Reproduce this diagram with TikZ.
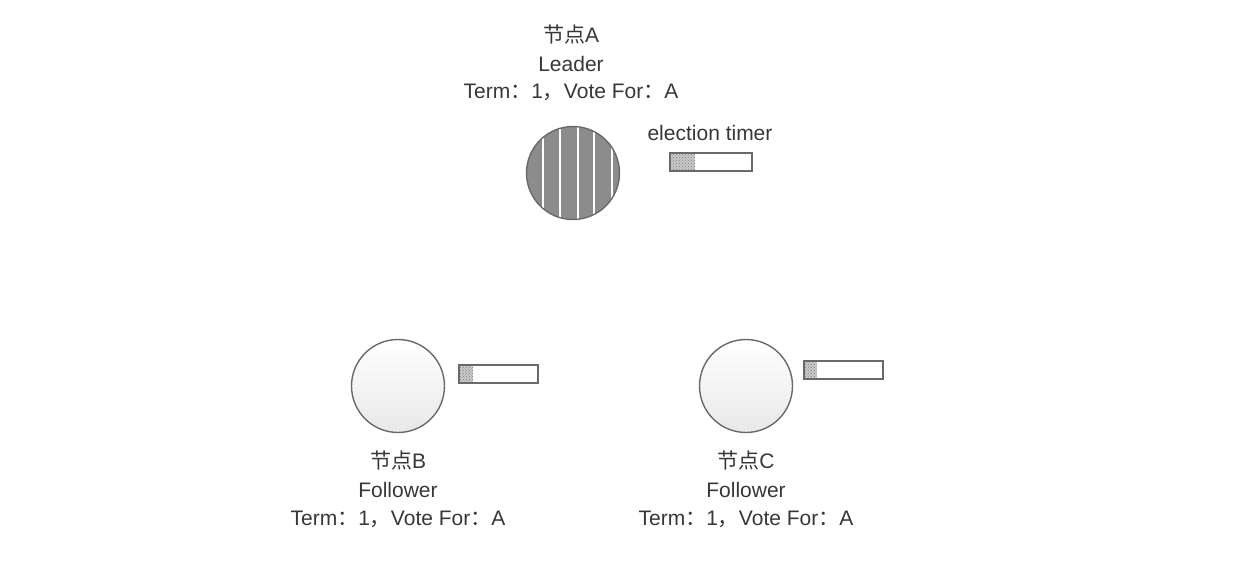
\documentclass[tikz,border=0pt]{standalone}
\usepackage{fontspec}
\setmainfont{Liberation Sans}
\newfontfamily\cjk{Noto Sans CJK SC}
\usetikzlibrary{positioning,patterns}

\begin{document}
\begin{tikzpicture}[x=1pt,y=1pt,yscale=-1,xscale=1,
  txt/.style={inner sep=0.75pt,text={rgb,255:red,55;green,55;blue,55},font=\fontsize{21}{25}\selectfont},
  ring/.style={circle,draw={rgb,255:red,105;green,105;blue,105},line width=1.4pt,minimum size=93pt,inner sep=0pt},
  bar/.style={draw={rgb,255:red,105;green,105;blue,105},line width=1.1pt,inner sep=0pt,minimum height=18pt},
  tick/.style={fill={rgb,255:red,200;green,200;blue,200},postaction={pattern=crosshatch dots,pattern color={rgb,255:red,130;green,130;blue,130}}}]
%set diagram left start at 0, and has height of 570
\useasboundingbox (0,0) rectangle (1246,570);

%Leader node A
\node (nodeA) [ring,fill={rgb,255:red,140;green,140;blue,140},
  path picture={\foreach \dx in {-30,-13,5,21,39}
    \draw[white,line width=1.7pt] ([xshift=\dx pt]path picture bounding box.north) -- ([xshift=\dx pt]path picture bounding box.south);}]
  at (573,173) {};
%Follower node B
\node (nodeB) [ring,top color=white,bottom color={rgb,255:red,232;green,232;blue,232}] at (398,386) {};
%Follower node C
\node (nodeC) [ring,top color=white,bottom color={rgb,255:red,232;green,232;blue,232}] at (746,386) {};

%Timers
\fill [tick] (670,153) rectangle (695,171);
\node (timerA) [bar,minimum width=82pt] at (711,162) {};
\fill [tick] (459,365) rectangle (473,383);
\node (timerB) [bar,minimum width=79pt] at (498.5,374) {};
\fill [tick] (804,361) rectangle (817,379);
\node (timerC) [bar,minimum width=79pt] at (843.5,370) {};

% Text Node
\node (nameA) [txt] at (571,35) {{\cjk 节点}A};
% Text Node
\node (roleA) [txt] at (571,64) {Leader};
% Text Node
\node (termA) [txt] at (571,92) {Term{\cjk ：}1{\cjk ，}Vote For{\cjk ：}A};
% Text Node
\node (timerlabel) [txt] at (710,133) {election timer};
% Text Node
\node (nameB) [txt] at (398,461) {{\cjk 节点}B};
% Text Node
\node (roleB) [txt] at (398,490) {Follower};
% Text Node
\node (termB) [txt] at (398,519) {Term{\cjk ：}1{\cjk ，}Vote For{\cjk ：}A};
% Text Node
\node (nameC) [txt] at (746,461) {{\cjk 节点}C};
% Text Node
\node (roleC) [txt] at (746,490) {Follower};
% Text Node
\node (termC) [txt] at (746,519) {Term{\cjk ：}1{\cjk ，}Vote For{\cjk ：}A};

\end{tikzpicture}
\end{document}
